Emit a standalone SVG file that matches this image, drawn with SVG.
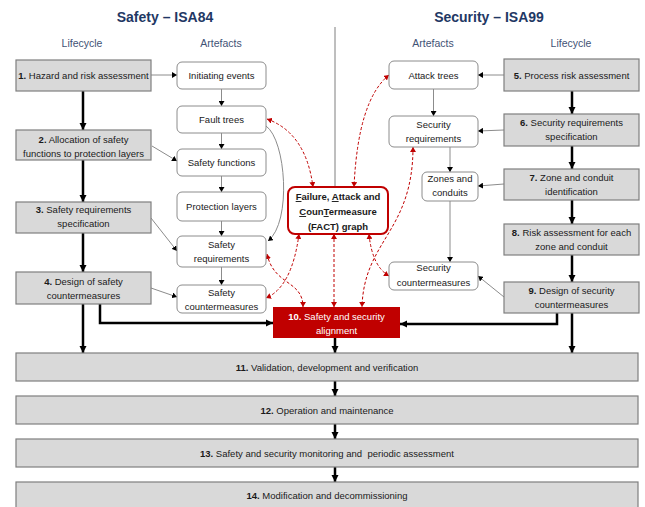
<svg xmlns="http://www.w3.org/2000/svg" width="645" height="507" viewBox="0 0 645 507">
<style>
text{font-family:"Liberation Sans",Arial,sans-serif;font-size:9.5px;fill:#1a1a1a;text-anchor:middle}
.title{font-size:14px;font-weight:bold;fill:#1F3864}
.sub{font-size:10.5px;fill:#3F5275}
.lc{fill:#d9d9d9;stroke:#7f7f7f;stroke-width:1.2}
.art{fill:#fff;stroke:#8c8c8c;stroke-width:1}
.b{font-weight:bold}
.thick{stroke:#000;stroke-width:2.5;fill:none}
.thin{stroke:#8c8c8c;stroke-width:1;fill:none}
.red{stroke:#C00000;stroke-width:1;stroke-dasharray:3,2;fill:none}
.w{fill:#fff}
</style>
<defs>
<marker id="ak" markerWidth="8" markerHeight="8" refX="7" refY="4" orient="auto" markerUnits="userSpaceOnUse"><path d="M0,0.5 L7,4 L0,7.5z" fill="#000"/></marker>
<marker id="as" markerWidth="6" markerHeight="6" refX="5" refY="3" orient="auto" markerUnits="userSpaceOnUse"><path d="M0,0 L5,3 L0,6z" fill="#000"/></marker>
<marker id="ar" markerWidth="6" markerHeight="6" refX="5" refY="3" orient="auto-start-reverse" markerUnits="userSpaceOnUse"><path d="M0,0 L5,3 L0,6z" fill="#C00000"/></marker>
</defs>

<text class="title" x="165" y="22">Safety – ISA84</text>
<text class="title" x="489" y="22">Security – ISA99</text>
<text class="sub" x="82" y="47">Lifecycle</text>
<text class="sub" x="221" y="47">Artefacts</text>
<text class="sub" x="433" y="47">Artefacts</text>
<text class="sub" x="571" y="47">Lifecycle</text>
<line x1="335" y1="27" x2="335" y2="187" stroke="#7f7f7f" stroke-width="1"/>

<g id="connectors">
<line class="thick" x1="83" y1="91" x2="83" y2="130" marker-end="url(#ak)"/>
<line class="thick" x1="83" y1="160" x2="83" y2="202" marker-end="url(#ak)"/>
<line class="thick" x1="83" y1="233" x2="83" y2="272" marker-end="url(#ak)"/>
<line class="thick" x1="83" y1="304" x2="83" y2="353" marker-end="url(#ak)"/>
<line class="thick" x1="572" y1="91" x2="572" y2="114" marker-end="url(#ak)"/>
<line class="thick" x1="572" y1="146" x2="572" y2="169" marker-end="url(#ak)"/>
<line class="thick" x1="572" y1="200" x2="572" y2="224" marker-end="url(#ak)"/>
<line class="thick" x1="572" y1="255" x2="572" y2="282" marker-end="url(#ak)"/>
<line class="thick" x1="572" y1="313" x2="572" y2="353" marker-end="url(#ak)"/>
<polyline class="thick" points="100,304 100,323 273,323" marker-end="url(#ak)"/>
<polyline class="thick" points="557,313 557,324 400,324" marker-end="url(#ak)"/>
<line class="thick" x1="335" y1="338" x2="335" y2="353" marker-end="url(#ak)"/>
<line class="thick" x1="335" y1="381" x2="335" y2="396" marker-end="url(#ak)"/>
<line class="thick" x1="335" y1="424" x2="335" y2="439" marker-end="url(#ak)"/>
<line class="thick" x1="335" y1="467" x2="335" y2="482" marker-end="url(#ak)"/>
<line class="thin" x1="151" y1="75" x2="177" y2="75" marker-end="url(#as)"/>
<line class="thin" x1="221.5" y1="89" x2="221.5" y2="106" marker-end="url(#as)"/>
<line class="thin" x1="221.5" y1="133" x2="221.5" y2="149" marker-end="url(#as)"/>
<line class="thin" x1="221.5" y1="176" x2="221.5" y2="192" marker-end="url(#as)"/>
<line class="thin" x1="221.5" y1="221" x2="221.5" y2="236" marker-end="url(#as)"/>
<line class="thin" x1="221.5" y1="267" x2="221.5" y2="285" marker-end="url(#as)"/>
<line class="thin" x1="152" y1="146" x2="177" y2="161" marker-end="url(#as)"/>
<line class="thin" x1="151" y1="218" x2="177" y2="251" marker-end="url(#as)"/>
<line class="thin" x1="151" y1="288" x2="177" y2="297" marker-end="url(#as)"/>
<path class="thin" d="M266,126 C286,140 292,222 268,241" marker-end="url(#as)"/>
<line class="thin" x1="504" y1="75" x2="478" y2="75" marker-end="url(#as)"/>
<line class="thin" x1="433.5" y1="89" x2="433.5" y2="116" marker-end="url(#as)"/>
<line class="thin" x1="504" y1="130" x2="478" y2="131" marker-end="url(#as)"/>
<line class="thin" x1="450" y1="147" x2="450" y2="172" marker-end="url(#as)"/>
<line class="thin" x1="504" y1="184" x2="478" y2="186" marker-end="url(#as)"/>
<line class="thin" x1="450" y1="201" x2="450" y2="262" marker-end="url(#as)"/>
<line class="thin" x1="504" y1="297" x2="478" y2="276" marker-end="url(#as)"/>
<path class="red" d="M267,119 Q306,133 313,187" marker-start="url(#ar)" marker-end="url(#ar)"/>
<path class="red" d="M389,75 Q358,100 354,187" marker-start="url(#ar)" marker-end="url(#ar)"/>
<path class="red" d="M413,147 C413,232 364,240 362,307" marker-start="url(#ar)" marker-end="url(#ar)"/>
<line class="red" x1="334" y1="234" x2="334" y2="307" marker-start="url(#ar)" marker-end="url(#ar)"/>
<path class="red" d="M299,234 Q292,287 266,298" marker-start="url(#ar)" marker-end="url(#ar)"/>
<path class="red" d="M267,254 C274,286 303,280 303,307" marker-start="url(#ar)" marker-end="url(#ar)"/>
<path class="red" d="M369,234 Q372,266 389,276" marker-start="url(#ar)" marker-end="url(#ar)"/>
</g>

<g id="n1"><rect class="lc" x="16" y="60" width="135" height="31"/><text x="83.5" y="79"><tspan class="b">1.</tspan> Hazard and risk assessment</text></g>
<g id="n2"><rect class="lc" x="16" y="130" width="135" height="30"/><text x="83.5" y="143"><tspan class="b">2.</tspan> Allocation of safety</text><text x="83.5" y="157">functions to protection layers</text></g>
<g id="n3"><rect class="lc" x="16" y="202" width="135" height="31"/><text x="83.5" y="213"><tspan class="b">3.</tspan> Safety requirements</text><text x="83.5" y="227">specification</text></g>
<g id="n4"><rect class="lc" x="16" y="272" width="135" height="32"/><text x="83.5" y="285"><tspan class="b">4.</tspan> Design of safety</text><text x="83.5" y="299">countermeasures</text></g>

<g id="n5"><rect class="lc" x="504" y="59" width="135" height="32"/><text x="571.5" y="79"><tspan class="b">5.</tspan> Process risk assessment</text></g>
<g id="n6"><rect class="lc" x="504" y="114" width="135" height="32"/><text x="571.5" y="126"><tspan class="b">6.</tspan> Security requirements</text><text x="571.5" y="140">specification</text></g>
<g id="n7"><rect class="lc" x="504" y="169" width="135" height="31"/><text x="571.5" y="181"><tspan class="b">7.</tspan> Zone and conduit</text><text x="571.5" y="195">identification</text></g>
<g id="n8"><rect class="lc" x="504" y="224" width="135" height="31"/><text x="571.5" y="236"><tspan class="b">8.</tspan> Risk assessment for each</text><text x="571.5" y="250">zone and conduit</text></g>
<g id="n9"><rect class="lc" x="504" y="282" width="135" height="31"/><text x="571.5" y="294"><tspan class="b">9.</tspan> Design of security</text><text x="571.5" y="308">countermeasures</text></g>

<g id="a_init"><rect class="art" x="177" y="62" width="89" height="27" rx="5"/><text x="221.5" y="79">Initiating events</text></g>
<g id="a_fault"><rect class="art" x="177" y="106" width="89" height="27" rx="5"/><text x="221.5" y="123">Fault trees</text></g>
<g id="a_sfunc"><rect class="art" x="177" y="149" width="89" height="27" rx="5"/><text x="221.5" y="166">Safety functions</text></g>
<g id="a_prot"><rect class="art" x="177" y="192" width="89" height="29" rx="5"/><text x="221.5" y="210">Protection layers</text></g>
<g id="a_sreq"><rect class="art" x="177" y="236" width="89" height="31" rx="5"/><text x="221.5" y="248">Safety</text><text x="221.5" y="262">requirements</text></g>
<g id="a_scm"><rect class="art" x="177" y="285" width="89" height="28" rx="5"/><text x="221.5" y="296">Safety</text><text x="221.5" y="310">countermeasures</text></g>

<g id="a_attack"><rect class="art" x="389" y="61" width="89" height="28" rx="5"/><text x="433.5" y="79">Attack trees</text></g>
<g id="a_secreq"><rect class="art" x="389" y="116" width="89" height="31" rx="5"/><text x="433.5" y="128">Security</text><text x="433.5" y="142">requirements</text></g>
<g id="a_zones"><rect class="art" x="422" y="172" width="56" height="29" rx="5"/><text x="450" y="182">Zones and</text><text x="450" y="196">conduits</text></g>
<g id="a_seccm"><rect class="art" x="389" y="262" width="89" height="28" rx="5"/><text x="433.5" y="271">Security</text><text x="433.5" y="286">countermeasures</text></g>

<g id="fact"><rect x="288" y="187" width="100" height="47" rx="7" fill="#fff" stroke="#C00000" stroke-width="2"/>
<text class="b" x="338" y="200"><tspan text-decoration="underline">F</tspan>ailure, <tspan text-decoration="underline">A</tspan>ttack and</text>
<text class="b" x="338" y="215"><tspan text-decoration="underline">C</tspan>oun<tspan text-decoration="underline">T</tspan>ermeasure</text>
<text class="b" x="338" y="230">(FACT) graph</text></g>

<g id="n10"><rect x="273" y="307" width="127" height="31" fill="#C00000"/><text class="w" x="336.5" y="320"><tspan class="b w">10.</tspan> Safety and security</text><text class="w" x="336.5" y="334">alignment</text></g>

<g id="n11"><rect class="lc" x="16" y="353" width="622" height="28"/><text x="327" y="371"><tspan class="b">11.</tspan> Validation, development and verification</text></g>
<g id="n12"><rect class="lc" x="16" y="396" width="622" height="28"/><text x="327" y="414"><tspan class="b">12.</tspan> Operation and maintenance</text></g>
<g id="n13"><rect class="lc" x="16" y="439" width="622" height="28"/><text x="327" y="457" xml:space="preserve"><tspan class="b">13.</tspan> Safety and security monitoring and  periodic assessment</text></g>
<g id="n14"><rect class="lc" x="16" y="482" width="622" height="28"/><text x="327" y="499"><tspan class="b">14.</tspan> Modification and decommissioning</text></g>
</svg>
